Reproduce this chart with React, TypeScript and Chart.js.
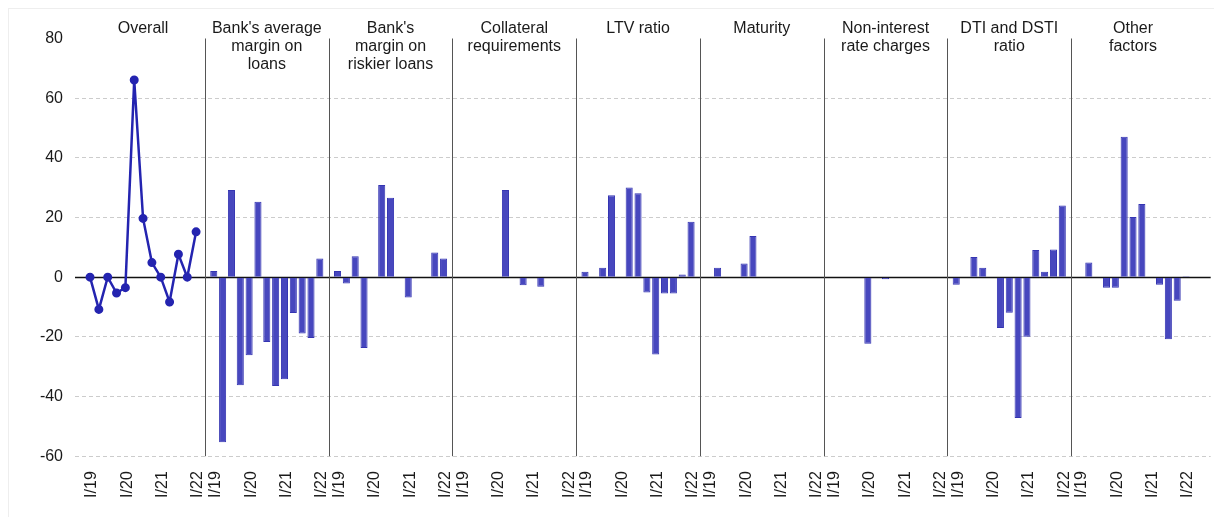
import React, { useEffect, useRef } from "react";
import { Chart, registerables } from "chart.js";

Chart.register(...registerables);

const quarters = ["I/19", "II/19", "III/19", "IV/19", "I/20", "II/20", "III/20", "IV/20", "I/21", "II/21", "III/21", "IV/21", "I/22"];
const shownQuarterIdx = [0, 4, 8, 12];

const panelTitles = [
  ["Overall"],
  ["Bank's average", "margin on", "loans"],
  ["Bank's", "margin on", "riskier loans"],
  ["Collateral", "requirements"],
  ["LTV ratio"],
  ["Maturity"],
  ["Non-interest", "rate charges"],
  ["DTI and DSTI", "ratio"],
  ["Other", "factors"],
];

const overall = [0, -10.8, 0, -5.3, -3.5, 66.1, 19.7, 4.9, 0, -8.3, 7.7, 0, 15.2];
const avgMargin = [2.1, -55.3, 29.2, -36.2, -26.2, 25.3, -21.7, -36.5, -34.2, -12, -18.9, -20.4, 6.3];
const riskierMargin = [2.1, -2.1, 7, -23.7, 0, 30.9, 26.6, 0, -6.8, 0, 0, 8.3, 6.3];
const collateral = [0, 0, 0, 0, 0, 29.2, 0, -2.7, 0, -3.2, 0, 0, 0];
const ltv = [1.8, 0, 3.2, 27.5, 0, 30.1, 28.1, -5.1, -25.9, -5.5, -5.5, 0.9, 18.6];
const maturity = [0, 3.2, 0, 0, 4.6, 13.8, 0, 0, 0, 0, 0, 0, 0];
const nonInterest = [0, 0, 0, 0, -22.3, 0, -0.7, 0, 0, 0, 0, 0, 0];
const dtiDsti = [-2.5, 0, 6.8, 3.2, 0, -17, -11.9, -47.2, -20, 9.1, 1.8, 9.3, 24];
const otherFactors = [0, 4.9, 0, -3.5, -3.5, 47.1, 20.2, 24.5, 0, -2.5, -20.8, -7.9, 0.3];

const barPanels = [avgMargin, riskierMargin, collateral, ltv, maturity, nonInterest, dtiDsti, otherFactors];

const yMin = -60;
const yMax = 80;
const yStep = 20;

const SLOTS = 14; // 13 quarters + 1 gap per panel
const FONT = '"Liberation Sans", Arial, Helvetica, sans-serif';
const TEXT = "#1a1a1a";

export default function App() {
  const ref = useRef<HTMLCanvasElement | null>(null);

  useEffect(() => {
    if (!ref.current) return;

    const lineData = overall.map((v, q) => ({ x: q, y: v }));
    const barData: { x: number; y: number }[] = [];
    barPanels.forEach((arr, i) => {
      arr.forEach((v, q) => barData.push({ x: (i + 1) * SLOTS + q, y: v }));
    });
    const tickValues: number[] = [];
    for (let p = 0; p < panelTitles.length; p++) {
      shownQuarterIdx.forEach((q) => tickValues.push(p * SLOTS + q));
    }

    const panelPlugin = {
      id: "panels",
      beforeDatasetsDraw(chart: any) {
        const { ctx, chartArea, scales } = chart;
        const x = scales.x;
        const y = scales.y;
        ctx.save();
        const y0 = Math.round(y.getPixelForValue(0)) + 0.5;
        ctx.strokeStyle = "#111";
        ctx.lineWidth = 1.3;
        ctx.beginPath();
        ctx.moveTo(chartArea.left, y0);
        ctx.lineTo(chartArea.right, y0);
        ctx.stroke();
        ctx.strokeStyle = "#555";
        ctx.lineWidth = 1;
        for (let p = 1; p < panelTitles.length; p++) {
          const px = Math.round(x.getPixelForValue(p * SLOTS - 1)) + 0.5;
          ctx.beginPath();
          ctx.moveTo(px, chartArea.top);
          ctx.lineTo(px, chartArea.bottom);
          ctx.stroke();
        }
        ctx.restore();
      },
      afterDraw(chart: any) {
        const { ctx, scales } = chart;
        const x = scales.x;
        ctx.save();
        ctx.font = `16px ${FONT}`;
        ctx.fillStyle = TEXT;
        ctx.textAlign = "center";
        ctx.textBaseline = "middle";
        panelTitles.forEach((lines, p) => {
          const cx = x.getPixelForValue(p * SLOTS + 6);
          lines.forEach((t, i) => ctx.fillText(t, cx, 20 + i * 18));
        });
        ctx.restore();
      },
    };

    const chart = new Chart(ref.current, {
      type: "bar",
      data: {
        datasets: [
          {
            type: "line",
            data: lineData,
            borderColor: "#2424b0",
            backgroundColor: "#2424b0",
            pointBackgroundColor: "#2424b0",
            pointBorderColor: "#2424b0",
            borderWidth: 2.5,
            pointRadius: 3.5,
            pointBorderWidth: 2,
            tension: 0,
          } as any,
          {
            type: "bar",
            data: barData,
            backgroundColor: "#4747be",
            borderColor: "#3535b2",
            borderWidth: 1,
            barPercentage: 0.8,
            categoryPercentage: 1,
          } as any,
        ],
      },
      options: {
        animation: false,
        responsive: false,
        layout: { autoPadding: false, padding: { top: 29.5, right: 3.3, left: 0, bottom: 0 } },
        plugins: { legend: { display: false }, tooltip: { enabled: false } },
        scales: {
          x: {
            type: "linear",
            min: -1.7,
            max: 126.79,
            offset: false,
            grid: { display: false, drawTicks: false },
            border: { display: false },
            afterBuildTicks: (scale: any) => {
              scale.ticks = tickValues.map((v) => ({ value: v }));
            },
            afterFit: (scale: any) => {
              scale.height = 60.8;
              scale.paddingLeft = 0;
              scale.paddingRight = 0;
            },
            ticks: {
              autoSkip: false,
              minRotation: 90,
              maxRotation: 90,
              padding: 15,
              labelOffset: 2,
              color: TEXT,
              font: { size: 16, family: FONT },
              callback: (value: any) => {
                const v = Number(value);
                const q = ((v % SLOTS) + SLOTS) % SLOTS;
                return quarters[q] ?? "";
              },
            },
          },
          y: {
            min: yMin,
            max: yMax,
            grid: {
              drawTicks: false,
              lineWidth: 1,
              color: (c: any) =>
                c.tick && (c.tick.value === 0 || c.tick.value === yMax) ? "rgba(0,0,0,0)" : "#cccccc",
            },
            border: { display: false, dash: [4, 3] },
            afterFit: (scale: any) => {
              scale.width = 66;
            },
            ticks: {
              stepSize: yStep,
              padding: 12,
              color: TEXT,
              font: { size: 16, family: FONT },
            },
          },
        },
      },
      plugins: [panelPlugin],
    });

    return () => chart.destroy();
  }, []);

  return (
    <div
      style={{
        width: 1206,
        height: 509,
        boxSizing: "border-box",
        borderTop: "1px solid #eeeeee",
        borderLeft: "1px solid #eeeeee",
        position: "relative",
      }}
    >
      <canvas ref={ref} width={1205} height={508} style={{ display: "block" }} />
    </div>
  );
}
